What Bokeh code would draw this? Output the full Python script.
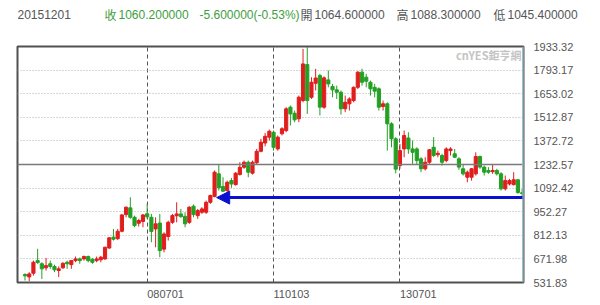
import pandas as pd
from bokeh.plotting import figure
from bokeh.layouts import column
from bokeh.models import Range1d, FixedTicker, Span, Label, Arrow, NormalHead, ColumnDataSource
from bokeh.embed import file_html
from bokeh.resources import INLINE

# ---------------- data (monthly candles, 2006-02 .. 2015-12) ----------------
months = [d.strftime("%Y-%m") for d in pd.date_range("2006-02-01", "2015-12-01", freq="MS")]

opens = [579, 565, 587, 662, 643, 619, 643, 627, 603, 619,
         652, 638, 662, 672, 672, 686, 670, 662, 667, 672,
         737, 801, 792, 836, 935, 975, 919, 884, 894, 940,
         919, 850, 885, 730, 805, 889, 928, 939, 925, 889,
         985, 929, 949, 949, 1008, 1042, 1177, 1102, 1078, 1137,
         1113, 1173, 1216, 1246, 1181, 1243, 1311, 1360, 1395, 1424,
         1325, 1415, 1434, 1573, 1537, 1504, 1612, 1826, 1632, 1715,
         1761, 1573, 1735, 1696, 1676, 1662, 1563, 1593, 1612, 1691,
         1781, 1751, 1721, 1691, 1682, 1577, 1593, 1474, 1385, 1226,
         1325, 1390, 1325, 1325, 1266, 1207, 1246, 1335, 1291, 1286,
         1256, 1315, 1296, 1266, 1207, 1157, 1157, 1177, 1280, 1217,
         1197, 1190, 1197, 1177, 1088, 1117, 1113, 1142, 1064.6]
highs = [587, 593, 662, 732, 652, 678, 662, 638, 627, 652,
         662, 665, 686, 680, 692, 692, 676, 686, 690, 745,
         801, 850, 850, 939, 983, 1038, 929, 910, 939, 1000,
         939, 919, 939, 830, 899, 939, 1008, 969, 949, 985,
         995, 969, 979, 1018, 1054, 1197, 1236, 1157, 1137, 1153,
         1187, 1246, 1256, 1256, 1256, 1325, 1385, 1420, 1440, 1434,
         1405, 1454, 1573, 1583, 1553, 1642, 1919, 1930, 1751, 1801,
         1771, 1756, 1791, 1711, 1701, 1672, 1642, 1632, 1696, 1786,
         1801, 1771, 1731, 1711, 1691, 1612, 1602, 1484, 1395, 1355,
         1434, 1424, 1375, 1335, 1276, 1276, 1325, 1395, 1315, 1296,
         1335, 1335, 1325, 1276, 1236, 1197, 1212, 1305, 1286, 1226,
         1217, 1236, 1207, 1187, 1167, 1147, 1187, 1145, 1088.3]
lows = [544, 540, 573, 643, 553, 603, 613, 593, 564, 613,
        613, 613, 652, 643, 662, 652, 643, 652, 652, 667,
        731, 781, 785, 830, 919, 910, 860, 864, 860, 910,
        771, 741, 682, 711, 781, 880, 889, 916, 860, 880,
        919, 910, 939, 939, 999, 1038, 1078, 1070, 1058, 1094,
        1107, 1167, 1207, 1157, 1173, 1236, 1305, 1340, 1375, 1315,
        1315, 1405, 1424, 1464, 1484, 1484, 1602, 1533, 1622, 1672,
        1524, 1563, 1691, 1632, 1622, 1529, 1543, 1553, 1602, 1681,
        1701, 1691, 1642, 1632, 1553, 1553, 1315, 1335, 1180, 1207,
        1276, 1296, 1236, 1236, 1187, 1197, 1236, 1276, 1276, 1226,
        1246, 1286, 1271, 1201, 1167, 1127, 1137, 1167, 1207, 1167,
        1177, 1177, 1167, 1078, 1078, 1108, 1108, 1059, 1045.4]
closes = [571, 583, 652, 650, 613, 632, 627, 607, 613, 646,
          643, 662, 672, 662, 686, 662, 652, 672, 682, 741,
          797, 789, 836, 933, 979, 919, 870, 900, 933, 922,
          835, 880, 721, 820, 889, 929, 939, 923, 880, 979,
          935, 959, 969, 1008, 1048, 1187, 1094, 1074, 1127, 1117,
          1181, 1216, 1246, 1187, 1246, 1311, 1365, 1400, 1430, 1335,
          1395, 1445, 1563, 1533, 1498, 1632, 1830, 1612, 1721, 1746,
          1573, 1747, 1711, 1676, 1662, 1563, 1602, 1622, 1691, 1781,
          1721, 1727, 1682, 1668, 1573, 1593, 1474, 1385, 1205, 1315,
          1405, 1325, 1305, 1256, 1207, 1246, 1320, 1286, 1299, 1246,
          1325, 1325, 1276, 1217, 1177, 1187, 1207, 1280, 1217, 1187,
          1187, 1197, 1177, 1088, 1137, 1137, 1142, 1065.8, 1060.2]

ytick_labels = ["531.83", "671.98", "812.13", "952.27", "1092.42", "1232.57",
                "1372.72", "1512.87", "1653.02", "1793.17", "1933.32"]
xtick_months = ["2008-07", "2011-01", "2013-07"]
xtick_labels = ["080701", "110103", "130701"]

ref_level = 1232.57      # solid reference line
arrow_level = 1036.0     # blue arrow level
arrow_tip = 45.5         # arrow tip (month index)

# header: date, close (收), change, open (開), high (高), low (低)
header_texts = ["20151201", "收", "1060.200000", "-5.600000(-0.53%)",
                "開", "1064.600000", "高", "1088.300000", "低", "1045.400000"]
header_colors = ["#555555", "#3e9e3e", "#3e9e3e", "#3e9e3e",
                 "#555555", "#555555", "#555555", "#555555", "#555555", "#555555"]
header_fonts = ["Liberation Sans", "Noto Sans CJK TC", "Liberation Sans", "Liberation Sans",
                "Noto Sans CJK TC", "Liberation Sans", "Noto Sans CJK TC", "Liberation Sans",
                "Noto Sans CJK TC", "Liberation Sans"]
# x positions relative to the header frame (which is aligned with the plot frame)
header_x = [0, 87, 101, 182, 283, 297, 379, 393, 476, 490]

# ---------------- styling ----------------
RED = "#e01e1e"
GREEN = "#23a023"
BLUE = "#0a10d0"
HF = "Noto Sans CJK TC"

# ---------------- header strip ----------------
h = figure(frame_width=583, frame_height=36, x_range=Range1d(0, 583), y_range=Range1d(36, 0),
           x_axis_location=None, y_axis_location=None,
           output_backend="svg", toolbar_location=None,
           min_border=0, outline_line_color=None)
h.grid.visible = False
for t, xx, col, fnt in zip(header_texts, header_x, header_colors, header_fonts):
    h.add_layout(Label(x=xx, y=14, text=t, text_color=col, text_font=fnt,
                       text_font_size="12px", text_baseline="middle", text_align="left"))

# ---------------- main chart ----------------
idx = list(range(len(months)))
colors = [RED if c >= o else GREEN for o, c in zip(opens, closes)]
src = ColumnDataSource(dict(
    x=idx, high=highs, low=lows,
    top=[max(o, c) for o, c in zip(opens, closes)],
    bottom=[min(o, c) for o, c in zip(opens, closes)],
    color=colors))

yticks = [float(s) for s in ytick_labels]
xticks = [months.index(m) for m in xtick_months]

p = figure(width=600, height=269,
           x_range=Range1d(-1.78, 118.33),
           y_range=Range1d(yticks[0], yticks[-1]),
           y_axis_location="right",
           output_backend="svg", toolbar_location=None,
           min_border_left=17, min_border_right=77,
           min_border_top=10, min_border_bottom=23,
           background_fill_color="white", border_fill_color="white")

p.outline_line_color = "#505050"
p.outline_line_width = 2

p.xgrid.ticker = FixedTicker(ticks=xticks)
p.xgrid.grid_line_color = "#555555"
p.xgrid.grid_line_dash = "4 3"
p.xgrid.grid_line_width = 1
p.ygrid.ticker = FixedTicker(ticks=yticks)
p.ygrid.grid_line_color = "#b0b0b0"
p.ygrid.grid_line_dash = "1 2"
p.ygrid.grid_line_width = 1

p.add_layout(Span(location=ref_level, dimension="width",
                  line_color="#7a7a7a", line_width=1.5))

p.segment(x0="x", y0="low", x1="x", y1="high", line_color="color",
          line_width=1, source=src)
p.vbar(x="x", width=0.75, top="top", bottom="bottom", fill_color="color",
       line_color="color", line_width=1, source=src)

p.add_layout(Arrow(end=NormalHead(size=13, fill_color=BLUE, line_color=BLUE),
                   x_start=p.x_range.end, y_start=arrow_level,
                   x_end=arrow_tip, y_end=arrow_level,
                   line_color=BLUE, line_width=3))

p.add_layout(Span(location=p.x_range.end, dimension="height",
                  line_color="#9fd4e4", line_width=2))

for ax in (p.xaxis, p.yaxis):
    ax.axis_line_color = None
    ax.major_tick_line_color = None
    ax.minor_tick_line_color = None
    ax.major_label_text_font = "Liberation Sans"
    ax.major_label_text_font_size = "11px"
    ax.major_label_text_color = "#555555"

p.xaxis.ticker = FixedTicker(ticks=xticks)
p.xaxis.major_label_overrides = {t: l for t, l in zip(xticks, xtick_labels)}
p.xaxis.major_label_standoff = 5
p.xaxis.major_label_orientation = -0.0001

p.yaxis.ticker = FixedTicker(ticks=yticks)
p.yaxis.major_label_overrides = {t: l for t, l in zip(yticks, ytick_labels)}
p.yaxis.major_label_standoff = 4

p.add_layout(Label(x=504, y=228, x_units="screen", y_units="screen",
                   text="cnYES鉅亨網", text_font=HF, text_font_size="11px",
                   text_font_style="bold", text_color="#c4c4c4",
                   text_baseline="middle", text_align="right"))

layout = column(h, p, spacing=0)
open("out.html", "w").write(file_html(layout, INLINE))
